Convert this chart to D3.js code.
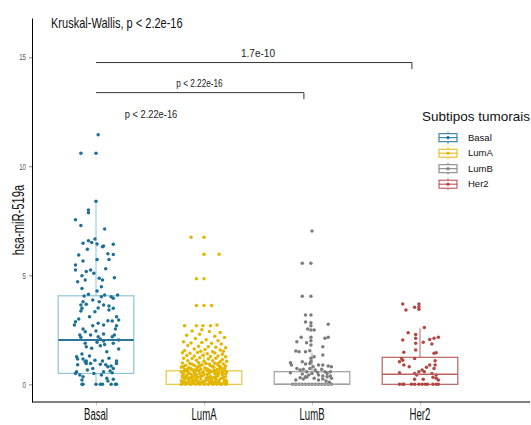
<!DOCTYPE html>
<html><head><meta charset="utf-8">
<script src="https://cdn.jsdelivr.net/npm/d3@7"></script>
<style>body{margin:0;background:#fff;} svg{display:block;font-family:"Liberation Sans",Arial,sans-serif;}</style>
</head><body><svg id="c" width="531" height="425"></svg>
<script>
const categories = ["Basal","LumA","LumB","Her2"];
const colors = ["#1d6f96","#e3b600","#7c7c7c","#b34543"];
const boxColors = ["#8cc3d6","#e8c63a","#a0a0a0","#b96262"];
const q1 = [0.5, 0, 0, 0];
const medians = [2.03, 0.15, 0, 0.46];
const q3 = [4.06, 0.62, 0.58, 1.24];
const whiskerLow = [0, 0, 0, 0];
const whiskerHigh = [8.4, 1.5, 1.45, 2.57];
const yTicks = [0, 5, 10, 15];
const title = "Kruskal-Wallis, p < 2.2e-16";
const yLabel = "hsa-miR-519a";
const legendTitle = "Subtipos tumorais";
const comparisons = [
  {from:"Basal", to:"Her2", y:14.78, label:"1.7e-10"},
  {from:"Basal", to:"LumB", y:13.4, label:"p < 2.22e-16"}
];
const hiddenComparison = {from:"Basal", to:"LumA", y:12.0, label:"p < 2.22e-16"};

// [jitter (category units), value]
const basalPoints = [
[0.02,11.45],[-0.14,10.6],[0.00,10.6],[0.00,8.4],[-0.07,8.0],[-0.07,7.87],[-0.19,7.55],[-0.14,7.28],[0.08,7.12],
[-0.12,6.47],[-0.07,6.59],[-0.04,6.51],[-0.01,6.67],[0.01,6.44],[-0.08,6.2],[0.06,6.31],[0.07,6.34],[0.16,6.42],
[-0.16,5.93],[0.11,5.99],[0.16,5.95],[-0.12,5.66],[0.01,5.73],[0.12,5.72],[-0.19,5.47],[-0.19,5.24],[-0.09,5.17],
[-0.05,5.24],[-0.13,4.98],[0.03,4.86],[0.06,4.78],[0.17,4.89],[-0.17,4.71],[-0.10,4.78],[-0.13,4.40],[0.05,4.48],
[0.01,4.28],[0.20,4.10],[-0.11,4.05],[-0.07,4.13],[0.05,4.02],[0.08,4.10],[0.16,3.95],[0.14,4.02],[-0.03,3.87],
[-0.12,3.79],[-0.14,3.64],[-0.09,3.67],[0.03,3.79],[0.07,3.64],[0.12,3.59],[0.16,3.49],[0.12,3.41],[-0.13,3.49],
[-0.14,3.36],[-0.01,3.33],[-0.06,3.10],[0.19,3.10],[0.21,2.95],[0.11,2.92],[0.15,2.90],[-0.19,2.87],[-0.20,2.72],
[-0.03,2.69],[0.02,2.80],[0.07,2.72],[-0.12,2.54],[-0.10,2.41],[0.19,2.69],[0.18,2.54],[-0.05,2.26],[0.07,2.31],
[0.02,2.18],[0.15,2.18],[0.17,2.26],[-0.15,2.26],[-0.14,2.16],[0.04,2.08],[0.07,1.99],[0.01,1.93],[0.21,2.03],
[-0.10,1.88],[-0.09,1.72],[0.04,1.77],[0.08,1.83],[-0.04,1.65],[0.16,1.88],[0.21,1.62],[0.10,1.50],[-0.13,1.39],
[-0.18,1.27],[-0.17,1.16],[-0.12,1.16],[-0.10,1.04],[-0.09,0.96],[-0.09,1.07],[-0.05,0.96],[-0.01,1.11],[0.06,1.07],
[0.04,0.92],[0.11,0.81],[0.14,0.84],[0.16,0.73],[0.19,1.07],[0.19,0.95],[-0.03,0.73],[-0.08,0.66],[-0.18,0.58],
[-0.19,0.50],[-0.15,0.43],[-0.12,0.35],[-0.13,0.20],[0.05,0.43],[0.07,0.58],[0.13,0.61],[0.15,0.53],[0.10,0.28],
[0.11,0.15],[0.16,0.23],[-0.13,0],[-0.12,0],[0.00,0],[0.04,0],[0.06,0],[0.14,0],[0.18,0],[0.19,0],
[-0.02,5.1],[0.09,5.3],[-0.16,3.0],[0.00,2.45],[-0.06,1.3],[0.12,1.2],[-0.02,0.5],[0.09,0.9],[-0.17,0.9],[0.02,3.5]
];
const lumAPoints = [
[-0.12,6.74],[0.00,6.74],[0.00,5.96],[0.14,5.96],[-0.07,4.84],[0.00,4.84],[-0.07,3.62],[0.00,3.62],[0.07,3.62],
[-0.18,2.69],[-0.07,2.69],[-0.01,2.69],[0.06,2.69],[0.12,2.72],
[-0.11,2.45],[-0.02,2.50],[0.05,2.42],[0.15,2.38],[-0.16,2.25],[-0.04,2.30],[0.10,2.20],[0.19,2.15],[-0.08,2.10],[0.02,2.05],[0.13,2.00],
[-0.19,1.95],[-0.12,1.90],[-0.02,1.92],[0.07,1.88],[0.16,1.85],[-0.15,1.78],[-0.05,1.75],[0.04,1.72],[0.11,1.70],[0.20,1.68],
[-0.09,1.62],[0.01,1.60],[0.15,1.58],[-0.18,1.55],[-0.03,1.52],[0.08,1.50],[0.18,1.52],
[-0.20,1.45],[-0.13,1.42],[-0.06,1.46],[0.03,1.40],[0.10,1.44],[0.17,1.38],[-0.16,1.32],[-0.09,1.30],[-0.01,1.33],[0.06,1.28],
[0.13,1.30],[0.20,1.26],[-0.19,1.20],[-0.11,1.18],[-0.04,1.22],[0.04,1.16],[0.11,1.20],[0.17,1.14],[-0.15,1.08],[-0.07,1.10],
[0.00,1.06],[0.08,1.08],[0.15,1.04],[0.21,1.06],
[-0.20,0.98],[-0.13,0.96],[-0.05,0.99],[0.02,0.95],[0.10,0.97],[0.18,0.93],[-0.17,0.88],[-0.09,0.86],[-0.02,0.90],[0.06,0.85],
[0.13,0.88],[0.20,0.84],[-0.21,0.78],[-0.14,0.76],[-0.06,0.80],[0.01,0.75],[0.09,0.78],[0.16,0.74],[-0.18,0.68],[-0.10,0.66],
[-0.03,0.70],[0.05,0.65],[0.12,0.68],[0.19,0.64],
[-0.21,0.58],[-0.15,0.56],[-0.08,0.60],[-0.01,0.55],[0.07,0.58],[0.14,0.54],[0.21,0.57],[-0.19,0.48],[-0.12,0.46],[-0.04,0.50],
[0.03,0.45],[0.10,0.48],[0.17,0.44],[-0.16,0.40],[-0.09,0.38],[-0.01,0.41],[0.06,0.36],[0.13,0.39],[0.20,0.35],[-0.20,0.32],
[-0.13,0.30],[-0.06,0.33],[0.02,0.29],[0.09,0.31],[0.16,0.28],
[-0.18,0.24],[-0.11,0.22],[-0.03,0.25],[0.04,0.21],[0.11,0.23],[0.19,0.20],[-0.21,0.16],[-0.14,0.15],[-0.07,0.17],[0.00,0.14],
[0.07,0.16],[0.14,0.13],[0.21,0.15],[-0.17,0.09],[-0.10,0.08],[-0.02,0.10],[0.05,0.07],[0.12,0.09],[0.18,0.06],[-0.20,0.03],
[-0.13,0.02],[-0.06,0.04],[0.01,0.02],[0.08,0.03],[0.15,0.01],[0.21,0.03],
[-0.21,0],[-0.17,0],[-0.12,0],[-0.08,0],[-0.04,0],[0.00,0],[0.04,0],[0.08,0],[0.12,0],[0.16,0],[0.20,0],
[-0.17,0.62],[0.03,0.62],[-0.05,0.12],[0.10,0.12],[-0.15,0.27],[0.17,0.52],[-0.09,0.52],[0.05,0.92],[-0.12,0.72],[0.15,0.82],
[-0.19,0.12],[-0.15,0.05],[-0.09,0.2],[-0.04,0.06],[0.02,0.19],[0.06,0.11],[0.10,0.04],[0.14,0.2],[0.19,0.11],[-0.11,0.13],
[-0.17,0.35],[-0.11,0.34],[-0.03,0.37],[0.04,0.33],[0.11,0.35],[0.18,0.31],[-0.07,0.27],[0.07,0.25],[-0.20,0.44],[-0.07,0.44],
[0.00,0.47],[0.13,0.46],[0.20,0.49],[-0.14,0.51],[0.05,0.52],[0.11,0.56],[-0.18,0.62],[-0.05,0.63],[0.09,0.63],[0.17,0.6],
[-0.15,0.7],[-0.07,0.72],[0.03,0.7],[0.14,0.71],[-0.19,0.82],[-0.04,0.84],[0.08,0.82],[-0.11,0.92],[0.13,0.95],[0.19,0.74]
];
const lumBPoints = [
[0.00,7.03],[-0.09,5.55],[-0.01,5.55],[-0.09,4.04],[-0.01,4.04],[-0.06,3.18],[-0.01,3.18],[-0.06,2.86],[-0.01,2.83],
[-0.01,2.69],[0.15,2.75],[-0.04,2.54],[-0.01,2.49],[0.02,2.49],[-0.10,2.16],[-0.01,2.16],[-0.01,2.0],[0.12,2.11],
[0.15,2.16],[-0.14,1.95],[-0.05,1.91],[-0.01,1.80],[0.10,1.72],[-0.15,1.53],[-0.12,1.50],[-0.06,1.50],[-0.02,1.54],
[0.10,1.34],[0.02,1.27],[-0.20,0.99],[-0.19,0.89],[-0.09,1.04],[-0.06,0.93],[-0.02,0.96],[0.01,0.81],[0.06,0.89],
[0.10,0.89],[0.15,0.84],[0.18,0.81],[-0.14,0.73],[-0.11,0.66],[-0.08,0.69],[-0.05,0.58],[-0.02,0.73],[0.03,0.66],
[0.09,0.69],[0.12,0.58],[0.14,0.50],[0.17,0.58],[-0.20,0.53],[-0.09,0.47],[-0.06,0.35],[-0.03,0.43],[0.00,0.50],
[0.06,0.43],[0.10,0.38],[0.14,0.35],[0.17,0.38],[0.18,0.28],[-0.11,0.30],[-0.08,0.25],[-0.05,0.33],[0.02,0.28],
[0.06,0.20],[0.10,0.25],[0.13,0.15],[-0.18,0],[-0.15,0],[-0.12,0],[-0.09,0],[-0.06,0],[-0.03,0],[0.00,0],[0.03,0],
[0.06,0],[0.09,0],[0.12,0],[0.15,0],[0.18,0],[-0.01,1.2],[-0.01,1.05],[0.05,0.55],[-0.15,0.2],[0.16,0.1]
];
const her2Points = [
[-0.16,3.68],[-0.13,3.41],[-0.05,3.53],[-0.01,3.68],[-0.01,3.56],[-0.01,3.44],[-0.11,2.37],[-0.04,2.29],[0.04,2.61],
[-0.16,2.03],[-0.04,2.11],[-0.04,1.88],[0.03,1.93],[0.09,2.06],[0.13,2.11],[0.17,2.16],[0.11,1.85],[-0.04,1.57],
[-0.15,1.47],[0.13,1.42],[0.15,1.45],[-0.17,1.19],[-0.19,1.04],[-0.16,1.11],[-0.05,1.19],[0.14,1.08],[-0.15,0.89],
[-0.10,0.81],[0.06,0.78],[0.09,0.89],[0.14,0.89],[0.13,0.73],[0.02,0.66],[-0.01,0.58],[0.04,0.58],[-0.19,0.53],
[-0.05,0.50],[-0.03,0.43],[0.11,0.50],[0.15,0.43],[0.12,0.32],[0.15,0.28],[-0.05,0.23],[0.03,0.23],[0.17,0.20],
[-0.19,0],[-0.16,0],[-0.15,0],[-0.08,0],[-0.05,0],[-0.01,0],[0.02,0],[0.05,0],[0.07,0],[0.12,0],[0.15,0],[0.17,0]
];
const groups = [basalPoints, lumAPoints, lumBPoints, her2Points];

const svg = d3.select("#c");
const y = d3.scaleLinear().domain([-0.81, 16.8]).range([402, 18]);
const x = d3.scalePoint().domain(categories).range([96, 420]);
const step = x.step();
const boxHalf = 0.35 * step;

function squeeze(sel, sx){
  sel.each(function(){
    const w = this.getComputedTextLength();
    d3.select(this).attr("textLength", w * sx).attr("lengthAdjust", "spacingAndGlyphs");
  });
}

// axes
const gy = svg.append("g").attr("transform","translate(32,0)")
  .call(d3.axisLeft(y).tickValues(yTicks).tickSize(3).tickSizeOuter(0).tickPadding(3));
gy.select(".domain").attr("stroke","#000").attr("stroke-width",1);
gy.selectAll(".tick line").attr("stroke","#8a8a8a");
gy.selectAll(".tick text").attr("fill","#555").attr("font-size",8.5).attr("font-family","Liberation Sans, Arial").call(squeeze,0.72);

const gx = svg.append("g").attr("transform","translate(0,402)")
  .call(d3.axisBottom(x).tickSize(3).tickSizeOuter(0).tickPadding(3));
gx.select(".domain").remove();
gx.selectAll(".tick line").attr("stroke","#c8c8c8");
gx.selectAll(".tick text").remove();
svg.append("line").attr("x1",32).attr("x2",530).attr("y1",402).attr("y2",402).attr("stroke","#000").attr("stroke-width",1);
svg.append("g").selectAll("text").data(categories).join("text")
  .attr("x", d => x(d)).attr("y", 420).attr("text-anchor","middle")
  .attr("font-size",16).attr("fill","#111").text(d => d).call(squeeze,0.6);

// boxes
const bg = svg.append("g");
categories.forEach((c,i) => {
  const cx = x(c);
  bg.append("line").attr("x1",cx).attr("x2",cx).attr("y1",y(q3[i])).attr("y2",y(whiskerHigh[i]))
    .attr("stroke",boxColors[i]).attr("stroke-width",1);
  bg.append("line").attr("x1",cx).attr("x2",cx).attr("y1",y(q1[i])).attr("y2",y(whiskerLow[i]))
    .attr("stroke",boxColors[i]).attr("stroke-width",1);
  bg.append("rect").attr("x",cx-boxHalf).attr("width",2*boxHalf)
    .attr("y",y(q3[i])).attr("height",y(q1[i])-y(q3[i]))
    .attr("fill","none").attr("stroke",boxColors[i]).attr("stroke-width",1.2);
});

// points
categories.forEach((c,i) => {
  svg.append("g").selectAll("circle").data(groups[i]).join("circle")
    .attr("cx", d => x(c) + d[0]*step).attr("cy", d => y(d[1])).attr("r",1.75)
    .attr("fill", colors[i]);
});

// medians on top
categories.forEach((c,i) => {
  const cx = x(c);
  svg.append("line").attr("x1",cx-boxHalf).attr("x2",cx+boxHalf)
    .attr("y1",y(medians[i])).attr("y2",y(medians[i]))
    .attr("stroke", i===0 ? "#2a7597" : boxColors[i]).attr("stroke-width", i===0 ? 2 : 1.5)
    .attr("stroke-opacity", i===1 ? 0 : 1);
});

// title and y label
svg.append("text").attr("x",51).attr("y",28).attr("font-size",15).attr("fill","#111").text(title).call(squeeze,0.735);
svg.append("text").attr("transform","translate(24,220) rotate(-90)").attr("text-anchor","middle")
  .attr("font-size",16).attr("fill","#111").text(yLabel).call(squeeze,0.7);

// comparison brackets
const tipOffset = 0.075*step;
comparisons.forEach(cmp => {
  const x1 = x(cmp.from), x2 = x(cmp.to) - tipOffset, yy = y(cmp.y);
  svg.append("path").attr("d",`M${x1},${yy+0.5}H${x2}V${yy+7}`).attr("fill","none").attr("stroke","#333").attr("stroke-width",1);
});
svg.append("text").attr("x",258).attr("y",y(comparisons[0].y)-4.7).attr("text-anchor","middle").attr("font-size",10).attr("fill","#222").text(comparisons[0].label);
svg.append("text").attr("x",199.5).attr("y",y(comparisons[1].y)-4.7).attr("text-anchor","middle").attr("font-size",10).attr("fill","#222").text(comparisons[1].label).call(squeeze,0.82);
svg.append("text").attr("x",151).attr("y",y(hiddenComparison.y)-4.7).attr("text-anchor","middle").attr("font-size",10).attr("fill","#222").text(hiddenComparison.label).call(squeeze,0.93);

// legend
const lg = svg.append("g");
lg.append("text").attr("x",422).attr("y",121).attr("font-size",13.5).attr("fill","#111").text(legendTitle);
categories.forEach((c,i) => {
  const cy = 137.7 + i*15.5;
  const g = lg.append("g");
  g.append("line").attr("x1",448).attr("x2",448).attr("y1",cy-6).attr("y2",cy+6).attr("stroke",colors[i]).attr("stroke-width",0.8);
  g.append("rect").attr("x",439).attr("y",cy-4).attr("width",18).attr("height",8).attr("fill","#fff").attr("stroke",colors[i]).attr("stroke-width",1);
  g.append("line").attr("x1",439).attr("x2",457).attr("y1",cy).attr("y2",cy).attr("stroke",colors[i]).attr("stroke-width",1);
  g.append("circle").attr("cx",448).attr("cy",cy).attr("r",1.6).attr("fill",colors[i]);
  g.append("text").attr("x",468).attr("y",cy+3).attr("font-size",9.5).attr("fill","#111").text(c);
});
</script></body></html>
